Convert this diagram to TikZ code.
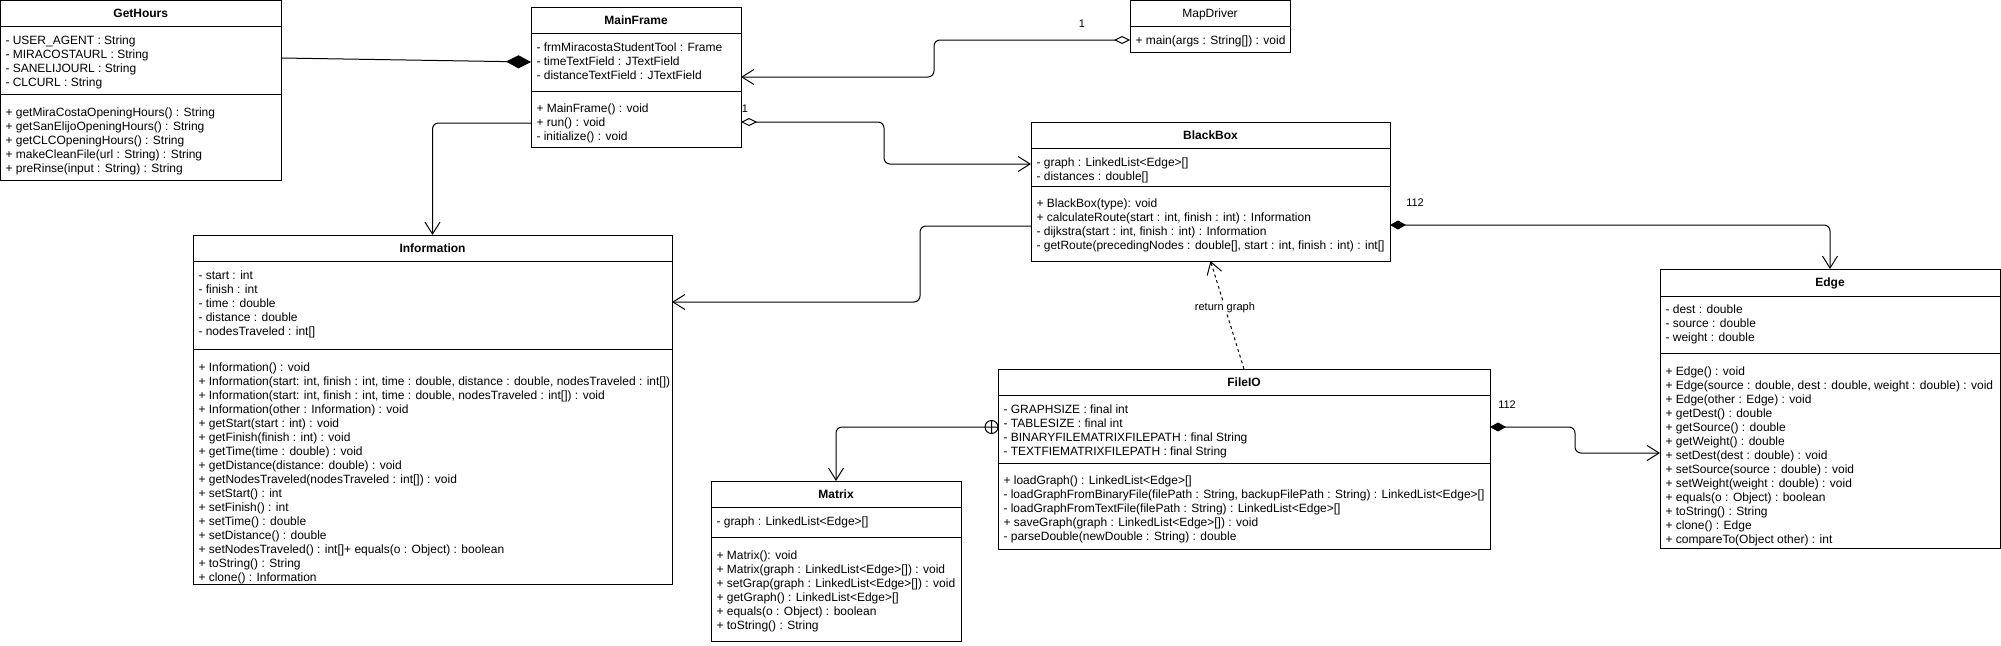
\documentclass[tikz,border=0pt]{standalone}
\usepackage{fontspec}
\setmainfont{Liberation Sans}
\usetikzlibrary{arrows.meta}

\begin{document}
\begin{tikzpicture}[x=1pt,y=-1pt,line width=1pt,
	classbox/.style={draw,anchor=north west,inner sep=0pt,outer sep=0pt},
	classname/.style={anchor=base,inner sep=0pt,font=\fontsize{12}{14}\selectfont\bfseries},
	members/.style={anchor=north west,align=left,inner sep=0pt,font=\fontsize{12}{14}\selectfont},
	linklabel/.style={inner sep=1pt,font=\fontsize{11}{13}\selectfont},
	link/.style={rounded corners=6pt,-{Straight Barb[length=12pt,width=15pt]}},
	aggr/.style={rounded corners=6pt,{Diamond[open,length=16pt,width=8pt]}-{Straight Barb[length=12pt,width=15pt]}},
	compo/.style={rounded corners=6pt,{Diamond[length=16pt,width=9pt]}-{Straight Barb[length=12pt,width=15pt]}},
	depend/.style={dashed,-{Straight Barb[length=12pt,width=15pt]}}]
	\useasboundingbox (0,0) rectangle (2001,645);

	\node[classbox,minimum width=280.5pt,minimum height=179.5pt] (gethours) at (0.5,0.5) {};
	\draw (0.5,26) -- (281,26) (0.5,94) -- (281,94);
	\node[classname] (gethourstitle) at (140.75,17.8) {GetHours};
	\node[members] (gethoursattr) at (5,35.6) {- USER\_AGENT : String\\- MIRACOSTAURL : String\\- SANELIJOURL : String\\- CLCURL : String};
	\node[members] (gethoursops) at (5,107.6) {+ getMiraCostaOpeningHours() : String\\+ getSanElijoOpeningHours() : String\\+ getCLCOpeningHours() : String\\+ makeCleanFile(url : String) : String\\+ preRinse(input : String) : String};

	\node[classbox,minimum width=210pt,minimum height=140pt] (mainframe) at (531,7) {};
	\draw (531,33) -- (741,33) (531,91) -- (741,91);
	\node[classname] (mainframetitle) at (636,24.3) {MainFrame};
	\node[members] (mainframeattr) at (536,42.6) {- frmMiracostaStudentTool : Frame\\- timeTextField : JTextField\\- distanceTextField : JTextField};
	\node[members] (mainframeops) at (536,103.6) {+ MainFrame() : void\\+ run() : void\\- initialize() : void};

	\node[classbox,minimum width=160pt,minimum height=51.5pt] (mapdriver) at (1130,0.5) {};
	\draw (1130,26) -- (1290,26);
	\node[classname,font=\fontsize{12}{14}\selectfont] (mapdrivertitle) at (1210,17.8) {MapDriver};
	\node[members] (mapdriverops) at (1135,35.6) {+ main(args : String[]) : void};

	\node[classbox,minimum width=359pt,minimum height=139pt] (blackbox) at (1031,122) {};
	\draw (1031,148) -- (1390,148) (1031,186) -- (1390,186);
	\node[classname] (blackboxtitle) at (1210.5,139.3) {BlackBox};
	\node[members] (blackboxattr) at (1036,157.6) {- graph : LinkedList<Edge>[]\\- distances : double[]};
	\node[members] (blackboxops) at (1036,198.6) {+ BlackBox(type): void\\+ calculateRoute(start : int, finish : int) : Information\\- dijkstra(start : int, finish : int) : Information\\- getRoute(precedingNodes : double[], start : int, finish : int) : int[]};

	\node[classbox,minimum width=479pt,minimum height=349pt] (information) at (193,235) {};
	\draw (193,261) -- (672,261) (193,349) -- (672,349);
	\node[classname] (informationtitle) at (432.5,252.3) {Information};
	\node[members] (informationattr) at (198,270.6) {- start : int\\- finish : int\\- time : double\\- distance : double\\- nodesTraveled : int[]};
	\node[members] (informationops) at (198,362.6) {+ Information() : void\\+ Information(start: int, finish : int, time : double, distance : double, nodesTraveled : int[])\\+ Information(start: int, finish : int, time : double, nodesTraveled : int[]) : void\\+ Information(other : Information) : void\\+ getStart(start : int) : void\\+ getFinish(finish : int) : void\\+ getTime(time : double) : void\\+ getDistance(distance: double) : void\\+ getNodesTraveled(nodesTraveled : int[]) : void\\+ setStart() : int\\+ setFinish() : int\\+ setTime() : double\\+ setDistance() : double\\+ setNodesTraveled() : int[]+ equals(o : Object) : boolean\\+ toString() : String\\+ clone() : Information};

	\node[classbox,minimum width=340pt,minimum height=279pt] (edge) at (1660,269) {};
	\draw (1660,296) -- (2000,296) (1660,353) -- (2000,353);
	\node[classname] (edgetitle) at (1830,286.8) {Edge};
	\node[members] (edgeattr) at (1665,304.6) {- dest : double\\- source : double\\- weight : double};
	\node[members] (edgeops) at (1665,366.6) {+ Edge() : void\\+ Edge(source : double, dest : double, weight : double) : void\\+ Edge(other : Edge) : void\\+ getDest() : double\\+ getSource() : double\\+ getWeight() : double\\+ setDest(dest : double) : void\\+ setSource(source : double) : void\\+ setWeight(weight : double) : void\\+ equals(o : Object) : boolean\\+ toString() : String\\+ clone() : Edge\\+ compareTo(Object other) : int};

	\node[classbox,minimum width=492pt,minimum height=180pt] (fileio) at (998,369) {};
	\draw (998,395) -- (1490,395) (998,463) -- (1490,463);
	\node[classname] (fileiotitle) at (1244,386.3) {FileIO};
	\node[members] (fileioattr) at (1003,404.6) {- GRAPHSIZE : final int\\- TABLESIZE : final int\\- BINARYFILEMATRIXFILEPATH : final String\\- TEXTFIEMATRIXFILEPATH : final String};
	\node[members] (fileioops) at (1003,475.6) {+ loadGraph() : LinkedList<Edge>[]\\- loadGraphFromBinaryFile(filePath : String, backupFilePath : String) : LinkedList<Edge>[]\\- loadGraphFromTextFile(filePath : String) : LinkedList<Edge>[]\\+ saveGraph(graph : LinkedList<Edge>[]) : void\\- parseDouble(newDouble : String) : double};

	\node[classbox,minimum width=250pt,minimum height=160pt] (matrix) at (711,481) {};
	\draw (711,507) -- (961,507) (711,537) -- (961,537);
	\node[classname] (matrixtitle) at (836,498.3) {Matrix};
	\node[members] (matrixattr) at (716,516.6) {- graph : LinkedList<Edge>[]};
	\node[members] (matrixops) at (716,550.6) {+ Matrix(): void\\+ Matrix(graph : LinkedList<Edge>[]) : void\\+ setGrap(graph : LinkedList<Edge>[]) : void\\+ getGraph() : LinkedList<Edge>[]\\+ equals(o : Object) : boolean\\+ toString() : String};

	\draw[-{Diamond[length=25pt,width=13pt]}] (gethours.east |- 0,58) -- (mainframe.west |- 0,62);
	\draw[aggr] (mapdriver.west |- 0,40) -- (934,40) -- (934,77) -- (mainframe.east |- 0,77);
	\node[linklabel] (mapdriverone) at (1082,24) {1};
	\draw[aggr] (mainframe.east |- 0,122) -- (884,122) -- (884,164) -- (blackbox.west |- 0,164);
	\node[linklabel] (mainframeone) at (745,109) {1};
	\draw[link] (mainframe.west |- 0,123) -| (information.north);
	\draw[link] (blackbox.west |- 0,226) -- (920,226) -- (920,302) -- (information.east |- 0,302);
	\draw[compo] (blackbox.east |- 0,225) -| (edge.north);
	\node[linklabel] (blackboxmult) at (1415,203) {112};
	\draw[depend] (fileio.north) -- node[linklabel,fill=white,pos=0.57] (returngraph) {return graph} (blackbox.south);
	\coordinate (nest) at (fileio.west |- 0,427);
	\draw (nest) ++(-6.5,0) circle (6.5) (nest) -- ++(-13,0) ([xshift=-6.5pt]nest) ++(0,-6.5) -- ++(0,13);
	\draw[link] ([xshift=-13pt]nest) -| (matrix.north);
	\draw[compo] (fileio.east |- 0,427) -- (1575,427) -- (1575,453) -- (edge.west |- 0,453);
	\node[linklabel] (fileiomult) at (1507,405) {112};
\end{tikzpicture}
\end{document}
